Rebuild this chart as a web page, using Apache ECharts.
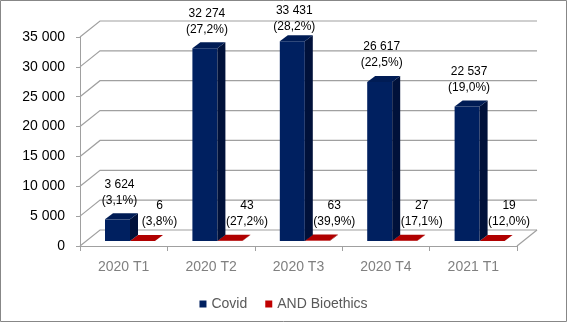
<!DOCTYPE html>
<html>
<head>
<meta charset="utf-8">
<script src="https://cdn.jsdelivr.net/npm/echarts@6/dist/echarts.min.js"></script>
<style>html,body{margin:0;padding:0;background:#fff}#c{width:567px;height:322px}</style>
</head>
<body>
<div id="c"></div>
<script>
const categories = ['2020 T1', '2020 T2', '2020 T3', '2020 T4', '2021 T1'];
const covid = [3624, 32274, 33431, 26617, 22537];
const covidPct = [3.1, 27.2, 28.2, 22.5, 19.0];
const bioethics = [6, 43, 63, 27, 19];
const bioethicsPct = [3.8, 27.2, 39.9, 17.1, 12.0];
const yTicks = [0, 5000, 10000, 15000, 20000, 25000, 30000, 35000];

const FONT = 'Liberation Sans, Arial, sans-serif';
const WALL_DX = 20, WALL_DY = -16;
const BAR_DX = 6.3, BAR_DY = -5;
const DEP_DX = 8, DEP_DY = -6;
const BAR_RATIO = 0.286;
const GRID_COLOR = '#a0a0a0';

function fmtNum(v) { return String(v).replace(/\B(?=(\d{3})+(?!\d))/g, ' '); }
function fmtPct(v) { return '(' + v.toFixed(1).replace('.', ',') + '%)'; }

function wallRender(params, api) {
  const cs = params.coordSys;
  const v = api.value(1);
  const y = api.coord([0, v])[1];
  const x0 = cs.x, x1 = cs.x + cs.width;
  const children = [{
    type: 'polyline',
    shape: { points: [[x0, y], [x0 + WALL_DX, y + WALL_DY], [x1 + WALL_DX, y + WALL_DY]] },
    style: { stroke: GRID_COLOR, lineWidth: 1.2, fill: null }
  }];
  if (v === 0) {
    children.push({
      type: 'line',
      shape: { x1: x1, y1: y, x2: x1 + WALL_DX, y2: y + WALL_DY },
      style: { stroke: GRID_COLOR, lineWidth: 1.2 }
    });
  }
  return { type: 'group', children: children };
}

function makeBarRender(s, colors, values, pcts, labelShift) {
  return function (params, api) {
    const i = api.value(0), v = api.value(1);
    const base = api.coord([i, 0]);
    const top = api.coord([i, v]);
    const cw = api.size([1, 0])[0];
    const bw = cw * BAR_RATIO;
    const x0 = base[0] - bw + s * bw + BAR_DX;
    const x1 = x0 + bw;
    const yb = base[1] + BAR_DY;
    const yt = top[1] + BAR_DY;
    let lb = yt - 11;
    if (lb < 35) lb = 35;
    return {
      type: 'group',
      children: [
        { type: 'rect', shape: { x: x0, y: yt, width: bw, height: Math.max(0, yb - yt) }, style: { fill: colors.front } },
        { type: 'polygon', shape: { points: [[x1, yt], [x1 + DEP_DX, yt + DEP_DY], [x1 + DEP_DX, yb + DEP_DY], [x1, yb]] }, style: { fill: colors.side } },
        { type: 'polygon', shape: { points: [[x0, yt], [x0 + DEP_DX, yt + DEP_DY], [x1 + DEP_DX, yt + DEP_DY], [x1, yt]] }, style: { fill: colors.top } },
        {
          type: 'text',
          style: {
            text: fmtNum(values[i]) + '\n' + fmtPct(pcts[i]),
            x: (x0 + x1) / 2 + labelShift, y: lb,
            align: 'center', verticalAlign: 'bottom',
            fontSize: 12, lineHeight: 16, fontFamily: FONT, fill: '#000'
          },
          z2: 10
        }
      ]
    };
  };
}

const chart = echarts.init(document.getElementById('c'), null, { renderer: 'canvas' });
chart.setOption({
  animation: false,
  backgroundColor: '#fff',
  graphic: [{
    type: 'rect', shape: { x: 0.5, y: 0.5, width: 566, height: 321 },
    style: { fill: null, stroke: '#878787', lineWidth: 1 }, silent: true
  }],
  grid: { left: 80, right: 50, top: 37, bottom: 76 },
  legend: {
    top: 292, left: 'center',
    icon: 'rect', itemWidth: 7, itemHeight: 7, itemGap: 18,
    textStyle: { fontSize: 14, color: '#595959', fontFamily: FONT },
    data: ['Covid', 'AND Bioethics']
  },
  xAxis: {
    type: 'category', data: categories, boundaryGap: true,
    axisLine: { show: true, lineStyle: { color: GRID_COLOR, width: 1.2 } },
    axisTick: { show: true, length: 5, lineStyle: { color: GRID_COLOR } },
    axisLabel: { fontSize: 14, color: '#808080', fontFamily: FONT, margin: 14 },
    splitLine: { show: false }
  },
  yAxis: {
    type: 'value', min: 0, max: 35000, interval: 5000,
    axisLine: { show: true, lineStyle: { color: GRID_COLOR } },
    axisTick: { show: true, length: 4, lineStyle: { color: GRID_COLOR } },
    axisLabel: { fontSize: 14, color: '#000', fontFamily: FONT, margin: 15, formatter: fmtNum },
    splitLine: { show: false }
  },
  series: [
    {
      type: 'custom', name: 'walls', z: 1, silent: true,
      renderItem: wallRender,
      data: yTicks.map(v => [0, v]),
      encode: { x: 0, y: 1 }
    },
    {
      type: 'custom', name: 'Covid', z: 3,
      itemStyle: { color: '#002060' },
      renderItem: makeBarRender(0, { front: '#002060', side: '#00113a', top: '#001c55' }, covid, covidPct, 2),
      data: covid.map((v, i) => [i, v]),
      encode: { x: 0, y: 1 }
    },
    {
      type: 'custom', name: 'AND Bioethics', z: 2,
      itemStyle: { color: '#c00000' },
      renderItem: makeBarRender(1, { front: '#c00000', side: '#7a0000', top: '#b00000' }, bioethics, bioethicsPct, 17),
      data: bioethics.map((v, i) => [i, v]),
      encode: { x: 0, y: 1 }
    }
  ]
});
</script>
</body>
</html>
